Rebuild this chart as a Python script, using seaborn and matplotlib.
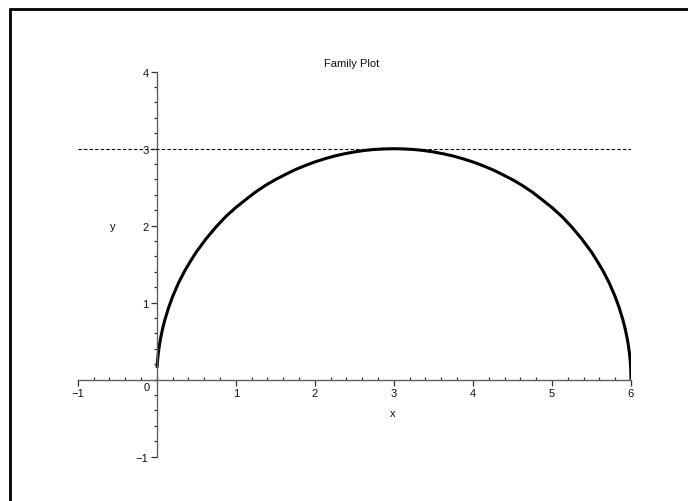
import numpy as np
import pandas as pd
import matplotlib
matplotlib.use("Agg")
import matplotlib.pyplot as plt
from matplotlib.lines import Line2D
from matplotlib.ticker import MultipleLocator, FixedLocator
import seaborn as sns

# ---- data ----
curve_x = [0.004, 0.01, 0.02, 0.035, 0.05, 0.075, 0.1, 0.15, 0.2, 0.275, 0.35, 0.425,
           0.5, 0.625, 0.75, 0.875, 1.0, 1.125, 1.25, 1.375, 1.5, 1.625, 1.75, 1.875,
           2.0, 2.125, 2.25, 2.375, 2.5, 2.625, 2.75, 2.875, 3.0, 3.125, 3.25, 3.375,
           3.5, 3.625, 3.75, 3.875, 4.0, 4.125, 4.25, 4.375, 4.5, 4.625, 4.75, 4.875,
           5.0, 5.125, 5.25, 5.375, 5.5, 5.575, 5.65, 5.725, 5.8, 5.85, 5.9, 5.925,
           5.95, 5.965, 5.98, 5.99, 5.996, 6.0]
curve_y = [0.155, 0.245, 0.346, 0.457, 0.545, 0.666, 0.768, 0.936, 1.077, 1.256,
           1.406, 1.536, 1.658, 1.831, 1.984, 2.120, 2.236, 2.338, 2.437, 2.523,
           2.598, 2.664, 2.727, 2.780, 2.828, 2.869, 2.905, 2.934, 2.958, 2.977,
           2.990, 2.997, 3.0, 2.997, 2.990, 2.977, 2.958, 2.934, 2.905, 2.869,
           2.828, 2.780, 2.727, 2.664, 2.598, 2.523, 2.437, 2.338, 2.236, 2.120,
           1.984, 1.831, 1.658, 1.536, 1.406, 1.256, 1.077, 0.936, 0.768, 0.666,
           0.545, 0.457, 0.346, 0.245, 0.155, 0.0]
level_x = [-1.0, 6.0]
level_y = [3.0, 3.0]
x_ticks = [-1, 1, 2, 3, 4, 5, 6]
x_tick_labels = ["\u22121", "1", "2", "3", "4", "5", "6"]
y_ticks = [-1, 1, 2, 3, 4]
y_tick_labels = ["\u22121", "1", "2", "3", "4"]
title = "Family Plot"

sns.set_theme(style="white")
plt.rcParams["font.family"] = ["Liberation Sans", "DejaVu Sans"]

fig = plt.figure(figsize=(6.88, 5.02), dpi=100)
W, H = 688, 502
x0px, x1px = 77.7, 631.0
ytop, ybot = 72.7, 457.7
ax = fig.add_axes([x0px / W, 1 - ybot / H, (x1px - x0px) / W, (ybot - ytop) / H])

curve = pd.DataFrame({"x": curve_x, "y": curve_y})
level = pd.DataFrame({"x": level_x, "y": level_y})

sns.lineplot(data=level, x="x", y="y", ax=ax, color="black", lw=0.8,
             linestyle=(0, (3, 2)), sort=False, estimator=None)
sns.lineplot(data=curve, x="x", y="y", ax=ax, color="black", lw=2.2,
             sort=False, estimator=None, solid_capstyle="butt",
             solid_joinstyle="round")

ax.set_xlim(-1, 6)
ax.set_ylim(-1, 4)
ax.set_facecolor("none")

for s in ["top", "right"]:
    ax.spines[s].set_visible(False)
axis_col = "#606060"
for s in ["left", "bottom"]:
    ax.spines[s].set_position(("data", 0))
    ax.spines[s].set_color(axis_col)
    ax.spines[s].set_linewidth(1.0)
    ax.spines[s].set_visible(True)
ax.spines["bottom"].set_bounds(-1, 6)
ax.spines["left"].set_bounds(-1, 4)

ax.xaxis.set_major_locator(FixedLocator(x_ticks))
ax.set_xticklabels(x_tick_labels)
ax.yaxis.set_major_locator(FixedLocator(y_ticks))
ax.set_yticklabels(y_tick_labels)
ax.xaxis.set_minor_locator(MultipleLocator(0.2))
ax.yaxis.set_minor_locator(MultipleLocator(0.2))

ax.tick_params(axis="x", which="major", direction="out", length=4, width=0.9,
               color="#333333", labelsize=8, pad=2, bottom=True)
ax.tick_params(axis="x", which="minor", direction="in", length=2, width=0.9,
               color="#333333", bottom=True)
ax.tick_params(axis="y", which="major", direction="out", length=4, width=0.9,
               color="#333333", labelsize=8, pad=2, left=True)
ax.tick_params(axis="y", which="minor", direction="out", length=2.5, width=0.9,
               color="#333333", left=True)
for lab in ax.get_xticklabels() + ax.get_yticklabels():
    lab.set_color("#111111")

ax.set_xlabel("")
ax.set_ylabel("")
ax.annotate("0", xy=(0, 0), xytext=(-7.5, -5), textcoords="offset points",
            ha="center", va="center", fontsize=8, color="#111111")
ax.text(2.99, -0.43, "x", ha="center", va="center", fontsize=8, color="#111111")
ax.text(-0.553, 2.0, "y", ha="center", va="center", fontsize=8, color="#111111")

fig.text(351.7 / W, 1 - 64 / H, title, ha="center", va="center",
         fontsize=8, color="#111111")

# top and left border of the frame
fig.add_artist(Line2D([9.5 / W, 9.5 / W], [0, 1 - 9.5 / H], transform=fig.transFigure,
                      color="black", lw=2))
fig.add_artist(Line2D([9.5 / W, 1], [1 - 9.5 / H, 1 - 9.5 / H], transform=fig.transFigure,
                      color="black", lw=2))

fig.savefig("out.png", dpi=100)
